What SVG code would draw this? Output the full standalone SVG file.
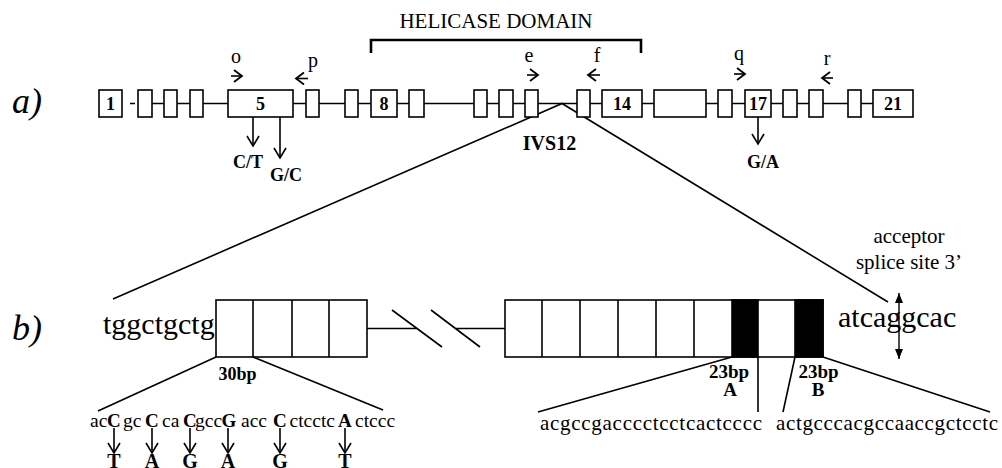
<svg xmlns="http://www.w3.org/2000/svg" width="1002" height="468" viewBox="0 0 1002 468">
<style>
.ln{stroke:#000;stroke-width:1.6;fill:none}
.bk{stroke:#000;stroke-width:2.6;fill:none}
.box{fill:#fff;stroke:#000;stroke-width:1.6}
.blk{fill:#000;stroke:#000;stroke-width:1.6}
text{font-family:"Liberation Serif","Times New Roman",serif;fill:#000}
.num{font-weight:bold;font-size:18px;text-anchor:middle}
.pr{font-size:20px;text-anchor:middle}
.mut{font-weight:bold;font-size:18px;text-anchor:middle}
.it{font-style:italic;font-size:36px}
.seq{font-size:19.5px}
.cap{font-size:19px;font-weight:bold}
.sub{font-weight:bold;font-size:20px;text-anchor:middle}
.arr{stroke:#000;stroke-width:1.6;fill:none;marker-end:url(#ah)}
.pa{stroke:#000;stroke-width:1.6;fill:none;marker-end:url(#ph)}
</style>
<defs>
<marker id="ah" viewBox="0 0 10 12" refX="10" refY="6" markerWidth="10" markerHeight="12" markerUnits="userSpaceOnUse" orient="auto" overflow="visible">
<path d="M0,0 L10,6 L0,12" fill="none" stroke="#000" stroke-width="1.6"/>
</marker>
<marker id="ph" viewBox="0 0 8 12" refX="8" refY="6" markerWidth="8" markerHeight="12" markerUnits="userSpaceOnUse" orient="auto" overflow="visible">
<path d="M0,0 L8,6 L0,12" fill="none" stroke="#000" stroke-width="1.8"/>
</marker>
<marker id="fh" viewBox="0 0 10 8" refX="10" refY="4" markerWidth="10" markerHeight="8" markerUnits="userSpaceOnUse" orient="auto-start-reverse" overflow="visible">
<path d="M0,0 L10,4 L0,8 Z" fill="#000"/>
</marker>
</defs>
<rect width="1002" height="468" fill="#fff"/>

<text class="it" x="12" y="113">a)</text>
<text class="it" x="12" y="340">b)</text>

<g id="connectors">
<path class="ln" d="M130,103.5 H135 M152,103.5 H873"/>
<path class="ln" d="M113,299 L562,103.5 L888,302"/>
<path class="ln" d="M367,328.5 H417 M456,328.5 H505 M392,310 L442,347 M431,310 L480,347"/>
<path class="ln" d="M98,411 L216,357 M253,357 L383,410"/>
<path class="ln" d="M538,412 L732,357 M758,357 V412 M795,357 L783,412 M823,357 L990,412"/>
<path class="arr" d="M253,117 V146"/>
<path class="arr" d="M280,117 V158"/>
<path class="arr" d="M758,117 V144"/>
<path class="pa" d="M231,76 H242"/>
<path class="pa" d="M308,78.5 H296"/>
<path class="pa" d="M527,75 H538"/>
<path class="pa" d="M600,75 H588"/>
<path class="pa" d="M734,74 H745"/>
<path class="pa" d="M833,78 H822"/>
<path d="M899,293 V359" stroke="#000" stroke-width="1.4" marker-start="url(#fh)" marker-end="url(#fh)"/>
<path class="arr" d="M114,428 V453"/>
<path class="arr" d="M152,428 V453"/>
<path class="arr" d="M190,428 V453"/>
<path class="arr" d="M228,428 V453"/>
<path class="arr" d="M280,428 V453"/>
<path class="arr" d="M345,428 V453"/>
</g>

<g id="helicase">
<path class="bk" d="M371,53 V40 H641 V53"/>
<text x="496" y="28" font-size="21" text-anchor="middle">HELICASE DOMAIN</text>
</g>

<g id="exons">
<g id="ex1"><rect class="box" x="99" y="90" width="23" height="27"/><text class="num" x="110.5" y="110">1</text></g>
<g id="ex2"><rect class="box" x="138" y="90" width="14" height="27"/></g>
<g id="ex3"><rect class="box" x="164" y="90" width="13" height="27"/></g>
<g id="ex4"><rect class="box" x="190" y="90" width="13" height="27"/></g>
<g id="ex5"><rect class="box" x="228" y="90" width="65" height="27"/><text class="num" x="260.5" y="110">5</text></g>
<g id="ex6"><rect class="box" x="306" y="90" width="13" height="27"/></g>
<g id="ex7"><rect class="box" x="345" y="90" width="13" height="27"/></g>
<g id="ex8"><rect class="box" x="371" y="90" width="26" height="27"/><text class="num" x="384" y="110">8</text></g>
<g id="ex9"><rect class="box" x="409" y="90" width="15" height="27"/></g>
<g id="ex10"><rect class="box" x="474" y="90" width="13" height="27"/></g>
<g id="ex11"><rect class="box" x="499" y="90" width="14" height="27"/></g>
<g id="ex12"><rect class="box" x="525" y="90" width="13" height="27"/></g>
<g id="ex13"><rect class="box" x="577" y="90" width="13" height="27"/></g>
<g id="ex14"><rect class="box" x="602" y="90" width="40" height="27"/><text class="num" x="622" y="110">14</text></g>
<g id="ex15"><rect class="box" x="654" y="90" width="52" height="27"/></g>
<g id="ex16"><rect class="box" x="718" y="90" width="14" height="27"/></g>
<g id="ex17"><rect class="box" x="745" y="90" width="26" height="27"/><text class="num" x="758" y="110">17</text></g>
<g id="ex18"><rect class="box" x="783" y="90" width="14" height="27"/></g>
<g id="ex19"><rect class="box" x="809" y="90" width="14" height="27"/></g>
<g id="ex20"><rect class="box" x="848" y="90" width="13" height="27"/></g>
<g id="ex21"><rect class="box" x="873" y="90" width="40" height="27"/><text class="num" x="893" y="110">21</text></g>
</g>

<g id="primers">
<text class="pr" x="236" y="63">o</text>
<text class="pr" x="313" y="67">p</text>
<text class="pr" x="529" y="62">e</text>
<text class="pr" x="597" y="62">f</text>
<text class="pr" x="739" y="60">q</text>
<text class="pr" x="827" y="65">r</text>
</g>

<g id="mutations">
<text class="mut" x="248" y="168">C/T</text>
<text class="mut" x="286" y="181">G/C</text>
<text class="mut" x="763" y="168">G/A</text>
<text x="549.5" y="150" font-size="20" font-weight="bold" text-anchor="middle">IVS12</text>
</g>

<g id="block-left">
<rect class="box" x="216" y="300" width="151" height="57"/>
<path class="ln" d="M253,300 V357 M292,300 V357 M329,300 V357"/>
<text x="103" y="334" font-size="30">tggctgctg</text>
<text x="237.5" y="380" font-size="18" font-weight="bold" text-anchor="middle">30bp</text>
</g>

<g id="block-right">
<rect class="box" x="505" y="300" width="318" height="57"/>
<rect class="blk" x="732" y="300" width="26" height="57"/>
<rect class="blk" x="795" y="300" width="28" height="57"/>
<path class="ln" d="M542,300 V357 M580,300 V357 M618,300 V357 M656,300 V357 M694,300 V357"/>
<text x="838" y="327" font-size="30">atcaggcac</text>
<text x="729" y="378" font-size="19" font-weight="bold" text-anchor="middle">23bp</text>
<text x="730" y="396" font-size="19" font-weight="bold" text-anchor="middle">A</text>
<text x="818.5" y="378" font-size="19" font-weight="bold" text-anchor="middle">23bp</text>
<text x="818" y="396" font-size="19" font-weight="bold" text-anchor="middle">B</text>
</g>

<g id="acceptor">
<text x="909" y="243" font-size="21" text-anchor="middle">acceptor</text>
<text x="909" y="269" font-size="21" text-anchor="middle">splice site 3’</text>
</g>

<g id="seq-left">
<text y="427"><tspan class="seq" x="90">ac</tspan><tspan class="cap" x="107">C</tspan><tspan class="seq" x="123">gc</tspan><tspan class="cap" x="145">C</tspan><tspan class="seq" x="162">ca</tspan><tspan class="cap" x="183">C</tspan><tspan class="seq" x="195">gcc</tspan><tspan class="cap" x="221.5">G</tspan><tspan class="seq" x="241">acc</tspan><tspan class="cap" x="273">C</tspan><tspan class="seq" x="289.5">ctcctc</tspan><tspan class="cap" x="338">A</tspan><tspan class="seq" x="355">ctccc</tspan></text>
<text class="sub" x="114" y="468">T</text>
<text class="sub" x="152" y="468">A</text>
<text class="sub" x="190" y="468">G</text>
<text class="sub" x="228" y="468">A</text>
<text class="sub" x="280" y="468">G</text>
<text class="sub" x="345" y="468">T</text>
</g>

<g id="seq-right">
<text x="540" y="430" font-size="21" textLength="222" lengthAdjust="spacing">acgccgacccctcctcactcccc</text>
<text x="776" y="430" font-size="21" textLength="222" lengthAdjust="spacing">actgcccacgccaaccgctcctc</text>
</g>
</svg>
